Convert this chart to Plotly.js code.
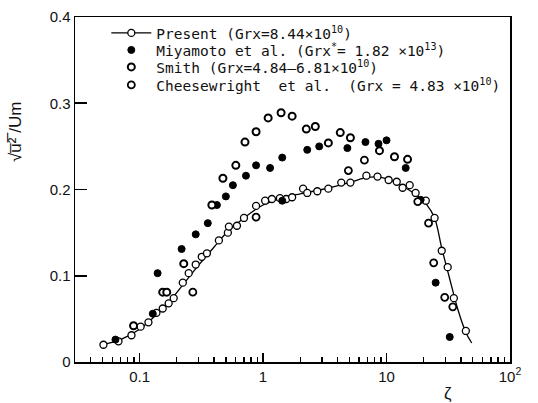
<!DOCTYPE html>
<html>
<head>
<meta charset="utf-8">
<script src="https://cdn.plot.ly/plotly-3.0.1.min.js"></script>
<style>html,body{margin:0;padding:0;background:#fff;}#chart{width:538px;height:403px;}</style>
</head>
<body>
<div id="chart"></div>
<script>
// Present measurements (open circles)
const presentX = [0.051, 0.0675, 0.086, 0.102, 0.118, 0.137, 0.154, 0.172, 0.189, 0.224, 0.25, 0.285, 0.319, 0.351, 0.439, 0.519, 0.529, 0.615, 0.701, 0.878, 1.04, 1.18, 1.37, 1.54, 1.72, 2.11, 2.28, 2.75, 3.38, 4.30, 5.10, 6.87, 8.45, 10.4, 12.1, 13.5, 15.4, 17.2, 20.8, 24.5, 28.0, 31.3, 35.1, 43.9];
const presentY = [0.020, 0.024, 0.031, 0.041, 0.046, 0.057, 0.062, 0.068, 0.074, 0.092, 0.103, 0.113, 0.122, 0.126, 0.141, 0.150, 0.157, 0.158, 0.167, 0.181, 0.187, 0.189, 0.190, 0.189, 0.191, 0.201, 0.196, 0.198, 0.201, 0.208, 0.208, 0.216, 0.215, 0.211, 0.209, 0.202, 0.205, 0.196, 0.187, 0.167, 0.129, 0.110, 0.074, 0.036];

// Present smooth curve
const curveX = [0.05, 0.07, 0.1, 0.13, 0.17, 0.22, 0.3, 0.4, 0.5, 0.7, 1.0, 1.5, 2, 3, 5, 7, 9, 12, 15, 18, 21, 24.5, 28, 32, 38, 44, 49];
const curveY = [0.020, 0.026, 0.038, 0.052, 0.068, 0.088, 0.112, 0.133, 0.149, 0.167, 0.182, 0.191, 0.195, 0.200, 0.208, 0.214, 0.214, 0.208, 0.200, 0.192, 0.183, 0.167, 0.132, 0.100, 0.060, 0.034, 0.022];

// Miyamoto et al. (filled circles)
const miyaX = [0.0638, 0.128, 0.140, 0.219, 0.285, 0.357, 0.423, 0.500, 0.570, 0.727, 0.878, 1.14, 1.43, 1.43, 2.28, 2.85, 4.82, 6.75, 8.61, 10.0, 14.3, 18.9, 25.0, 32.5];
const miyaY = [0.026, 0.056, 0.103, 0.131, 0.148, 0.161, 0.182, 0.192, 0.205, 0.216, 0.228, 0.225, 0.237, 0.187, 0.246, 0.250, 0.248, 0.255, 0.253, 0.257, 0.225, 0.188, 0.092, 0.029];

// Smith
const smithX = [0.0894, 0.154, 0.166, 0.228, 0.385, 0.473, 0.602, 0.714, 0.878, 1.10, 1.40, 1.72, 2.24, 2.65, 3.38, 4.22, 5.10, 8.77, 11.6, 14.8];
const smithY = [0.042, 0.081, 0.081, 0.114, 0.182, 0.213, 0.228, 0.255, 0.267, 0.283, 0.289, 0.285, 0.270, 0.273, 0.254, 0.266, 0.260, 0.245, 0.238, 0.235];

// Cheesewright et al.
const cheeX = [0.270, 0.878, 4.91, 6.62, 17.9, 21.9, 24.1, 29.6, 34.4];
const cheeY = [0.081, 0.168, 0.222, 0.234, 0.186, 0.161, 0.115, 0.075, 0.064];

// Axis ticks
const xTickVals = [0.1, 1, 10, 100];
const xTickText = ['0.1', '1', '10', '10<sup>2</sup>'];
const yTickVals = [0, 0.1, 0.2, 0.3, 0.4];
const yTickText = ['0', '0.1', '0.2', '0.3', '0.4'];

const legendNames = [
  'Present (Grx=8.44×10<sup>10</sup>)',
  'Miyamoto et al. (Grx<sup>*</sup>= 1.82 ×10<sup>13</sup>)',
  'Smith (Grx=4.84–6.81×10<sup>10</sup>)',
  'Cheesewright  et al.  (Grx = 4.83 ×10<sup>10</sup>)'
];

// minor tick positions (2..9 in each decade)
const minorTicks = [];
for (let e = -2; e <= 1; e++) {
  for (let m = 2; m <= 9; m++) minorTicks.push(m * Math.pow(10, e));
}

const ms = 7;
const traces = [
  {x: curveX, y: curveY, mode: 'lines', line: {color: '#000', width: 1.3, shape: 'spline'}, showlegend: false, hoverinfo: 'skip'},
  {x: presentX, y: presentY, mode: 'markers', showlegend: false,
   marker: {symbol: 'circle', size: ms, color: '#fff', line: {color: '#000', width: 1.3}}},
  {x: [null], y: [null], mode: 'lines+markers', name: legendNames[0], legend: 'legend',
   line: {color: '#000', width: 1.3},
   marker: {symbol: 'circle', size: ms, color: '#fff', line: {color: '#000', width: 1.3}}},
  {x: miyaX, y: miyaY, mode: 'markers', name: legendNames[1], legend: 'legend2',
   marker: {symbol: 'circle', size: ms, color: '#000', line: {color: '#000', width: 1}}},
  {x: smithX, y: smithY, mode: 'markers', name: legendNames[2], legend: 'legend3',
   marker: {symbol: 'circle', size: ms, color: '#fff', line: {color: '#000', width: 2}}},
  {x: cheeX, y: cheeY, mode: 'markers', name: legendNames[3], legend: 'legend4',
   marker: {symbol: 'circle', size: ms, color: '#fff', line: {color: '#000', width: 1.8}}}
];

const fontMain = 'Liberation Sans, Arial, sans-serif';
const legFont = {family: 'DejaVu Sans Mono, monospace', size: 14.5, color: '#111'};
function legendAt(py) {
  return {x: 0.072, y: (362 - py) / 345, xanchor: 'left', yanchor: 'middle', bgcolor: 'rgba(0,0,0,0)',
          font: legFont, itemwidth: 40, borderwidth: 0};
}
const layout = {
  width: 538, height: 403,
  margin: {l: 75, r: 28, t: 17, b: 41},
  paper_bgcolor: '#fff', plot_bgcolor: '#fff',
  showlegend: true,
  legend: legendAt(33),
  legend2: legendAt(50),
  legend3: legendAt(67),
  legend4: legendAt(85),
  xaxis: {
    type: 'log', range: [Math.log10(0.03), 2],
    tickmode: 'array', tickvals: xTickVals, ticktext: xTickText,
    ticks: 'inside', ticklen: 9, tickwidth: 1.6, tickcolor: '#000',
    minor: {tickmode: 'array', tickvals: minorTicks, ticks: 'inside', ticklen: 5, tickwidth: 1.3, tickcolor: '#000', showgrid: false},
    showgrid: false, zeroline: false,
    showline: true, linecolor: '#000', linewidth: 1.5, mirror: true,
    tickfont: {family: fontMain, size: 15, color: '#111'}
  },
  yaxis: {
    range: [0, 0.4],
    tickmode: 'array', tickvals: yTickVals, ticktext: yTickText,
    ticks: 'inside', ticklen: 12, tickwidth: 1.6, tickcolor: '#000',
    showgrid: false, zeroline: false,
    showline: true, linecolor: '#000', linewidth: 1.5, mirror: true,
    tickfont: {family: fontMain, size: 15, color: '#111'}
  },
  annotations: [
    {text: 'ζ', xref: 'paper', yref: 'paper', x: (448 - 75) / 435, y: -0.09, xanchor: 'center', yanchor: 'middle',
     showarrow: false, font: {family: fontMain, size: 17, color: '#111'}},
    {text: '√u̅²̅ /Um', xref: 'paper', yref: 'paper', x: (15 - 75) / 435, y: (362 - 132) / 345, xanchor: 'center', yanchor: 'middle',
     textangle: -90, showarrow: false, font: {family: fontMain, size: 17, color: '#111'}}
  ]
};

Plotly.newPlot('chart', traces, layout, {displayModeBar: false, staticPlot: true});
</script>
</body>
</html>
